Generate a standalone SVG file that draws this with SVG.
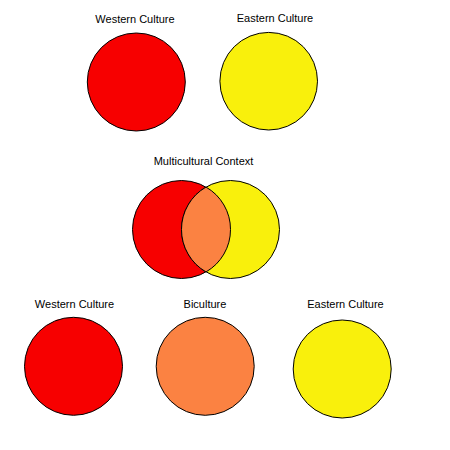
<svg xmlns="http://www.w3.org/2000/svg" width="450" height="450" viewBox="0 0 450 450">
<style>
text{font-family:"Liberation Sans",Arial,sans-serif;font-size:11px;fill:#000;text-anchor:middle}
.c{stroke:#000;stroke-width:1}
.r{fill:#F70000}
.y{fill:#F9F00C}
.o{fill:#FB8242}
</style>
<rect width="450" height="450" fill="#fff"/>
<g id="western-top">
<text x="135" y="23">Western Culture</text>
<circle class="c r" cx="136.3" cy="82" r="49"/>
</g>
<g id="eastern-top">
<text x="275" y="22">Eastern Culture</text>
<circle class="c y" cx="268.7" cy="81.2" r="48.8"/>
</g>
<g id="multicultural">
<text x="203.5" y="165">Multicultural Context</text>
<circle class="c r" cx="181.5" cy="229.5" r="49"/>
<circle class="c y" cx="230.5" cy="229.5" r="49"/>
<path class="c o" d="M206,187.06 A49,49 0 0 1 206,271.94 A49,49 0 0 1 206,187.06 Z"/>
</g>
<g id="western-bottom">
<text x="74.5" y="308">Western Culture</text>
<circle class="c r" cx="73.5" cy="366.3" r="49"/>
</g>
<g id="biculture">
<text x="205" y="308">Biculture</text>
<circle class="c o" cx="205.2" cy="366.3" r="49"/>
</g>
<g id="eastern-bottom">
<text x="345.5" y="307.5">Eastern Culture</text>
<circle class="c y" cx="342.2" cy="369" r="49"/>
</g>
<g id="connectors"></g>
</svg>
